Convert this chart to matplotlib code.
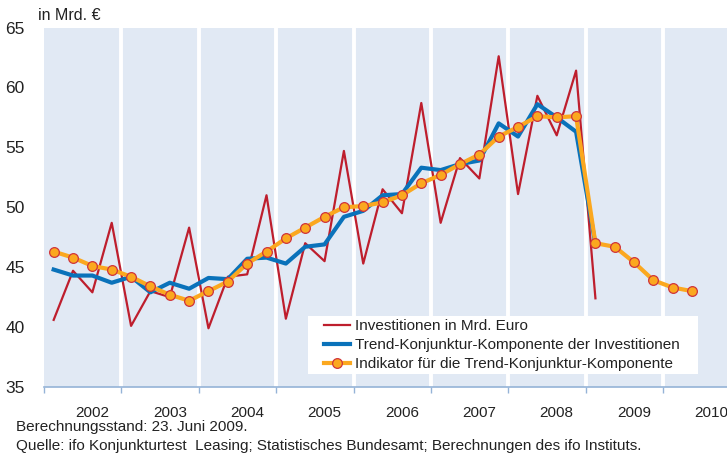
import numpy as np
import matplotlib.pyplot as plt
from matplotlib.patches import Rectangle

plt.rcParams['font.family'] = ['Liberation Sans', 'DejaVu Sans']

# Quartalswerte ab 2002 Q1
investitionen = [40.6, 44.7, 42.9, 48.7,
                 40.1, 43.0, 42.5, 48.3,
                 39.9, 44.2, 44.4, 51.0,
                 40.7, 47.0, 45.5, 54.7,
                 45.3, 51.5, 49.5, 58.7,
                 48.7, 54.1, 52.4, 62.6,
                 51.1, 59.3, 56.0, 61.4,
                 42.4]
trend = [44.8, 44.3, 44.3, 43.7,
         44.2, 42.9, 43.7, 43.2,
         44.1, 44.0, 45.7, 45.8,
         45.3, 46.7, 46.9, 49.2,
         49.7, 51.0, 51.1, 53.3,
         53.1, 53.6, 53.9, 57.0,
         55.9, 58.6, 57.5, 56.3,
         46.9]
indikator = [46.3, 45.8, 45.1, 44.8,
             44.2, 43.4, 42.7, 42.2,
             43.0, 43.8, 45.3, 46.3,
             47.4, 48.3, 49.2, 50.0,
             50.1, 50.4, 51.0, 52.0,
             52.7, 53.6, 54.4, 55.9,
             56.7, 57.6, 57.5, 57.6,
             47.0, 46.7, 45.4, 43.9,
             43.3, 43.0]
jahre = ['2002', '2003', '2004', '2005', '2006', '2007', '2008', '2009', '2010']
y_ticks = [35, 40, 45, 50, 55, 60, 65]

W, H = 727, 454
fig = plt.figure(figsize=(W / 100, H / 100), dpi=100)
ax = fig.add_axes([44 / W, 1 - 387 / H, 1 - 44 / W, 359.5 / H])
ax.set_facecolor('#E1E9F4')

# x-Position: Quartalsmitte
x_inv = np.arange(len(investitionen)) + 0.5
x_trend = np.arange(len(trend)) + 0.5
x_ind = np.arange(len(indikator)) + 0.5

# weiße Trennlinien zwischen den Jahren
for k in range(1, len(jahre)):
    ax.axvline(4 * k, color='white', lw=2.8, zorder=1)

ax.plot(x_inv, investitionen, color='#BE1E2D', lw=1.6, zorder=3,
        label='Investitionen in Mrd. Euro')
ax.plot(x_trend, trend, color='#0A72BA', lw=3.0, zorder=4,
        label='Trend-Konjunktur-Komponente der Investitionen')
ax.plot(x_ind, indikator, color='#FBA81F', lw=3.0, zorder=5,
        marker='o', markersize=7, markerfacecolor='#FBA81F',
        markeredgecolor='#D0343A', markeredgewidth=0.9,
        label='Indikator für die Trend-Konjunktur-Komponente')

ax.set_xlim(0.13, 35.3)
ax.set_ylim(35, 65)
ax.set_yticks(y_ticks)
ax.set_yticklabels([str(v) for v in y_ticks], fontsize=12.5, color='#222222')
ax.tick_params(axis='y', length=0, pad=14)

ax.set_xticks([4 * k for k in range(len(jahre))])
ax.set_xticklabels([])
ax.set_xticks([4 * k + 2.5 for k in range(len(jahre))], minor=True)
ax.set_xticklabels(jahre, minor=True, fontsize=11, color='#222222')
ax.tick_params(axis='x', which='major', direction='out', length=4,
               color='#95B3D7', width=1)
ax.tick_params(axis='x', which='minor', length=0, pad=14)

for side in ['top', 'right', 'left']:
    ax.spines[side].set_visible(False)
ax.spines['bottom'].set_color('#95B3D7')
ax.spines['bottom'].set_linewidth(1.2)

# weißer Kasten hinter der Legende
box = Rectangle((308 / W, 1 - 374 / H), 390 / W, 58 / H, transform=fig.transFigure,
                facecolor='white', edgecolor='none', zorder=6)
ax.add_patch(box)

leg = ax.legend(loc='upper left', bbox_to_anchor=(324 / W, 1 - 319 / H),
                bbox_transform=fig.transFigure, fontsize=11, frameon=False,
                handlelength=1.7, handletextpad=0.3, labelspacing=0.33,
                borderpad=0, borderaxespad=0)
leg.set_zorder(7)
for t in leg.get_texts():
    t.set_color('#222222')

fig.text(38 / W, 1 - 16 / H, 'in Mrd. €', fontsize=11.5, color='#222222',
         va='center', ha='left')
fig.text(16 / W, 1 - 427 / H, 'Berechnungsstand: 23. Juni 2009.',
         fontsize=11, color='#222222', va='center', ha='left')
fig.text(16 / W, 1 - 446 / H,
         'Quelle: ifo Konjunkturtest  Leasing; Statistisches Bundesamt; Berechnungen des ifo Instituts.',
         fontsize=11, color='#222222', va='center', ha='left')

fig.savefig('out.png', dpi=100)
